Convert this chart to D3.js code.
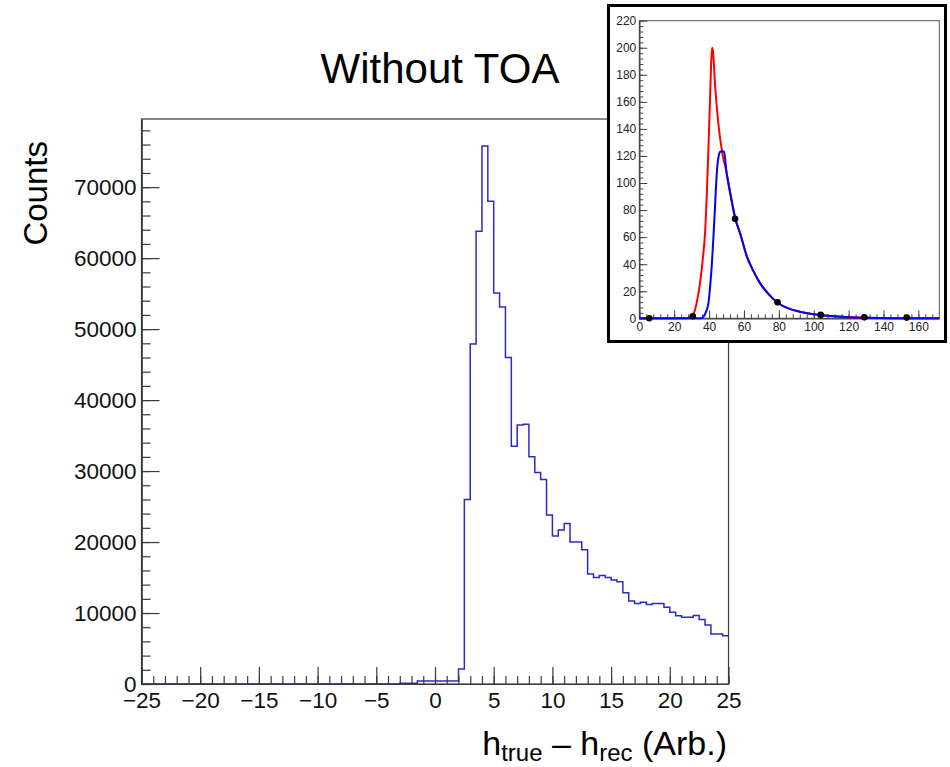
<!DOCTYPE html>
<html><head><meta charset="utf-8">
<script src="https://cdn.jsdelivr.net/npm/d3@7"></script>
<style>
body{margin:0;background:#fff;}
text{font-family:"Liberation Sans",Arial,Helvetica,sans-serif;}
</style>
</head><body>
<svg id="c" width="950" height="767"></svg>
<script>
// ---------------- DATA ----------------
// main histogram: 100 bins of width 0.5 from -25 to 25
const binLow = -25, binHigh = 25, binWidth = 0.5;
const counts = [
  0,0,0,0,0,0,0,0,0,0, 0,0,0,0,0,0,0,0,0,0,
  0,0,0,0,0,0,0,0,0,0, 0,0,0,0,0,0,0,0,0,0,
  0,0,0,0,
  110,110,110,
  420,420,420,420,420,420,420,
  2100,26000,47900,63800,75800,68000,55100,53100,46000,33500,
  36500,36600,32000,29800,28800,23800,20850,21700,22600,20000,
  20000,18900,15500,15000,15300,15000,14650,14400,12850,11700,
  11350,11500,11200,11350,11350,10800,10100,9600,9400,9400,
  9650,9100,8300,7050,7050,6800
];
const xMajorTicks = [-25,-20,-15,-10,-5,0,5,10,15,20,25];
const yMajorTicks = [0,10000,20000,30000,40000,50000,60000,70000];
const yMax = 79600;

// inset curves (x, y)
const insetRedX = [0,26,29,31,33,34.8,36.5,37.7,38.8,39.6,40.5,41.1,41.7,42.2,43.4,45.3,47.6,50,52.5,55,58,61.6,65,69.2,74,79.3,85,92,100,108,118,130,145,172];
const insetRedY = [0,0,0.5,3,12,26,45,63,95,124,160,185,200,198,173,144,122,108,90,74,62,46,36,26,18,11.5,7.5,4.9,3,1.8,1.0,0.4,0.1,0];
const insetBlueX = [0,35,36.7,38,39.6,40.5,41.5,42.5,43.4,44.0,44.7,45.5,46.3,47.5,48.6,50,52.5,55,58,61.6,65,69.2,74,79.3,85,92,100,108,118,130,145,172];
const insetBlueY = [0,0,1,4,11,22,38,60,82,98,112,120,123,123.5,123,108,90,74,62,46,36,26,18,11.5,7.5,4.9,3,1.8,1.0,0.4,0.1,0];
const insetDotsX = [5.7,30.6,54.9,79.3,104,129,153.3];
const insetDotsY = [0,1.5,73.6,11.8,2.5,0.7,0.5];
const insetXTicks = [0,20,40,60,80,100,120,140,160];
const insetYTicks = [0,20,40,60,80,100,120,140,160,180,200,220];

// ---------------- DRAW ----------------
const svg = d3.select("#c");
const axisCol = "#3a3a3a";

const x = d3.scaleLinear([binLow, binHigh], [141.5, 728.5]);
const y = d3.scaleLinear([0, yMax], [684, 119]);

// histogram step path
const pts = [];
pts.push([binLow, 0]);
counts.forEach((c, i) => {
  const lo = binLow + i * binWidth, hi = lo + binWidth;
  pts.push([lo, c]); pts.push([hi, c]);
});
svg.append("path")
  .attr("d", d3.line().x(d => x(d[0])).y(d => y(d[1]))(pts))
  .attr("fill", "none").attr("stroke", "#2b2bc4").attr("stroke-width", 1.5);

// frame
svg.append("rect").attr("x", 141.5).attr("y", 119).attr("width", 587).attr("height", 565)
  .attr("fill", "none").attr("stroke", axisCol).attr("stroke-width", 1.2);

// x axis
const xMinor = d3.range(-25, 25.001, 1);
const gxm = svg.append("g").attr("transform", "translate(0,684)")
  .call(d3.axisBottom(x).tickValues(xMinor).tickSize(-8).tickSizeOuter(0).tickFormat(""));
const gx = svg.append("g").attr("transform", "translate(0,684)")
  .call(d3.axisBottom(x).tickValues(xMajorTicks).tickSize(-17).tickSizeOuter(0).tickPadding(8));
// y axis
const yMinor = d3.range(0, yMax, 2000);
const gym = svg.append("g").attr("transform", "translate(141.5,0)")
  .call(d3.axisLeft(y).tickValues(yMinor).tickSize(-9).tickSizeOuter(0).tickFormat(""));
const gy = svg.append("g").attr("transform", "translate(141.5,0)")
  .call(d3.axisLeft(y).tickValues(yMajorTicks).tickSize(-18).tickSizeOuter(0).tickPadding(5).tickFormat(d3.format("d")));
[gxm, gx, gym, gy].forEach(g => {
  g.select(".domain").attr("stroke", axisCol).attr("stroke-width", 1.2);
  g.selectAll(".tick line").attr("stroke", axisCol).attr("stroke-width", 1.2);
  g.selectAll("text").attr("font-size", 22.5).attr("fill", "#111")
    .attr("font-family", "'Liberation Sans',Arial,sans-serif");
});

// titles
svg.append("text").attr("x", 440).attr("y", 83).attr("text-anchor", "middle")
  .attr("font-size", 42).attr("fill", "#000").text("Without TOA");
svg.append("text").attr("transform", "translate(47,141) rotate(-90)")
  .attr("text-anchor", "end").attr("font-size", 33).attr("fill", "#000").text("Counts");
const xl = svg.append("text").attr("x", 727).attr("y", 755).attr("text-anchor", "end")
  .attr("font-size", 34).attr("fill", "#000");
xl.append("tspan").text("h");
xl.append("tspan").attr("font-size", 24).attr("dy", 6).text("true");
xl.append("tspan").attr("dy", -6).text(" \u2013 h");
xl.append("tspan").attr("font-size", 24).attr("dy", 6).text("rec");
xl.append("tspan").attr("dy", -6).text(" (Arb.)");

// ---------------- INSET ----------------
svg.append("rect").attr("x", 608.5).attr("y", 5.5).attr("width", 337).attr("height", 336)
  .attr("fill", "#fff").attr("stroke", "#000").attr("stroke-width", 3);

const ix = d3.scaleLinear([0, 172], [639.3, 939.3]);
const iy = d3.scaleLinear([0, 220], [318.3, 20.7]);

svg.append("rect").attr("x", 639.3).attr("y", 20.7).attr("width", 300).attr("height", 297.6)
  .attr("fill", "none").attr("stroke", "#555").attr("stroke-width", 1);

const ixm = svg.append("g").attr("transform", "translate(0,318.3)")
  .call(d3.axisBottom(ix).tickValues(d3.range(0, 172, 4)).tickSize(-4).tickSizeOuter(0).tickFormat(""));
const ixM = svg.append("g").attr("transform", "translate(0,318.3)")
  .call(d3.axisBottom(ix).tickValues(insetXTicks).tickSize(-8).tickSizeOuter(0).tickPadding(4));
const iym = svg.append("g").attr("transform", "translate(639.3,0)")
  .call(d3.axisLeft(iy).tickValues(d3.range(0, 221, 4)).tickSize(-4).tickSizeOuter(0).tickFormat(""));
const iyM = svg.append("g").attr("transform", "translate(639.3,0)")
  .call(d3.axisLeft(iy).tickValues(insetYTicks).tickSize(-8).tickSizeOuter(0).tickPadding(3));
[ixm, ixM, iym, iyM].forEach(g => {
  g.select(".domain").attr("stroke", "#444").attr("stroke-width", 1);
  g.selectAll(".tick line").attr("stroke", "#444").attr("stroke-width", 1);
  g.selectAll("text").attr("font-size", 12).attr("fill", "#222")
    .attr("font-family", "'Liberation Sans',Arial,sans-serif");
});

const iline = d3.line().x(d => ix(d[0])).y(d => iy(d[1])).curve(d3.curveMonotoneX);
svg.append("path").attr("d", iline(insetRedX.map((v, i) => [v, insetRedY[i]])))
  .attr("fill", "none").attr("stroke", "#ff0000").attr("stroke-width", 2);
svg.append("path").attr("d", iline(insetBlueX.map((v, i) => [v, insetBlueY[i]])))
  .attr("fill", "none").attr("stroke", "#0000ff").attr("stroke-width", 2);
svg.selectAll("circle.dot").data(insetDotsX.map((v, i) => [v, insetDotsY[i]])).enter()
  .append("circle").attr("class", "dot")
  .attr("cx", d => ix(d[0])).attr("cy", d => iy(d[1])).attr("r", 3.3).attr("fill", "#000");
</script>
</body></html>
